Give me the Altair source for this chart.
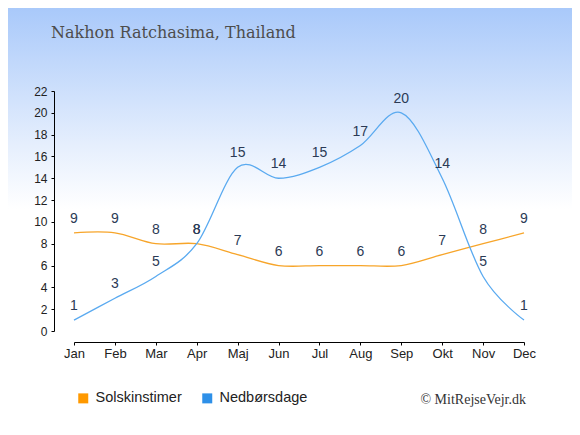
import altair as alt
import pandas as pd

months = ["Jan", "Feb", "Mar", "Apr", "Maj", "Jun", "Jul", "Aug", "Sep", "Okt", "Nov", "Dec"]
sun_hours = [9, 9, 8, 8, 7, 6, 6, 6, 6, 7, 8, 9]
rain_days = [1, 3, 5, 8, 15, 14, 15, 17, 20, 14, 5, 1]
series_names = ["Solskinstimer", "Nedbørsdage"]
y_ticks = [0, 2, 4, 6, 8, 10, 12, 14, 16, 18, 20, 22]
title_text = "Nakhon Ratchasima, Thailand"
credit_text = "© MitRejseVejr.dk"
line_colors = ["#f7a52a", "#5aaaf0"]
legend_colors = ["#ff9900", "#2e90e8"]

rows = []
for m, s, r in zip(months, sun_hours, rain_days):
    rows.append({"month": m, "series": series_names[0], "value": s})
    rows.append({"month": m, "series": series_names[1], "value": r})
df = pd.DataFrame(rows)
one = pd.DataFrame({"k": [0]})

W, H = 450, 240
PL, PT, PR = 66, 83, 48
PB = 419 - PT - H

x_enc = alt.X(
    "month:N", sort=months,
    scale=alt.Scale(type="point", padding=0),
    axis=alt.Axis(title=None, labelAngle=0, offset=11, tickSize=3, labelPadding=2,
                  labelFontSize=13, labelFont="Liberation Sans", labelColor="#222222",
                  domainColor="#000000", tickColor="#000000", grid=False, zindex=2),
)
y_enc = alt.Y(
    "value:Q",
    scale=alt.Scale(domain=[0, 22], nice=False, zero=True),
    axis=alt.Axis(title=None, values=y_ticks, offset=20, tickSize=3, labelPadding=4,
                  labelFontSize=12, labelFont="Liberation Sans", labelColor="#222222",
                  domainColor="#000000", tickColor="#000000", grid=False, zindex=2),
)

bg = alt.Chart(one).mark_rect(
    fill=alt.LinearGradient(
        gradient="linear",
        stops=[alt.GradientStop(color="#a9c9fa", offset=0),
               alt.GradientStop(color="#e6effd", offset=0.33),
               alt.GradientStop(color="#ffffff", offset=0.48),
               alt.GradientStop(color="#ffffff", offset=1)],
        x1=0, x2=0, y1=0, y2=1,
    )
).encode(x=alt.value(-PL), x2=alt.value(W + PR), y=alt.value(-PT), y2=alt.value(H + PB))

base = alt.Chart(df)

line_layers = [
    base.transform_filter(alt.datum.series == name)
    .mark_line(interpolate="cardinal", strokeWidth=1.3, color=col)
    .encode(x=x_enc, y=y_enc)
    for name, col in zip(series_names, line_colors)
]

legend_marks = base.mark_square(opacity=0, size=10).encode(
    x=x_enc, y=y_enc,
    fill=alt.Fill("series:N", scale=alt.Scale(domain=series_names, range=legend_colors),
                  legend=alt.Legend(title=None, orient="none", legendX=2, legendY=300,
                                    direction="horizontal", symbolType="square", symbolSize=100,
                                    symbolOpacity=1, symbolStrokeWidth=0, labelFontSize=14.5,
                                    labelFont="Liberation Sans", labelColor="#222222",
                                    labelOffset=5, columnPadding=18, zindex=2)),
)

labels = base.mark_text(dy=-14, fontSize=14, font="Liberation Sans", color="#2b3a55",
                        baseline="middle", align="center").encode(
    x=x_enc, y=y_enc, text="value:Q"
)

title = alt.Chart(one).mark_text(text=title_text, align="left", baseline="alphabetic",
                                 font="DejaVu Serif", fontSize=16, color="#4d4d4d").encode(
    x=alt.value(-23), y=alt.value(-53)
)

credit = alt.Chart(one).mark_text(text=credit_text, align="right", baseline="alphabetic",
                                  font="Liberation Serif", fontSize=14, color="#333333").encode(
    x=alt.value(452), y=alt.value(313)
)

chart = alt.layer(bg, *line_layers, legend_marks, labels, title, credit).properties(
    width=W, height=H,
    padding={"left": PL, "top": PT, "right": PR, "bottom": PB},
    autosize=alt.AutoSizeParams(type="none"),
).configure_view(stroke=None)

chart.save("out.html", embed_options={"renderer": "svg", "actions": False})
